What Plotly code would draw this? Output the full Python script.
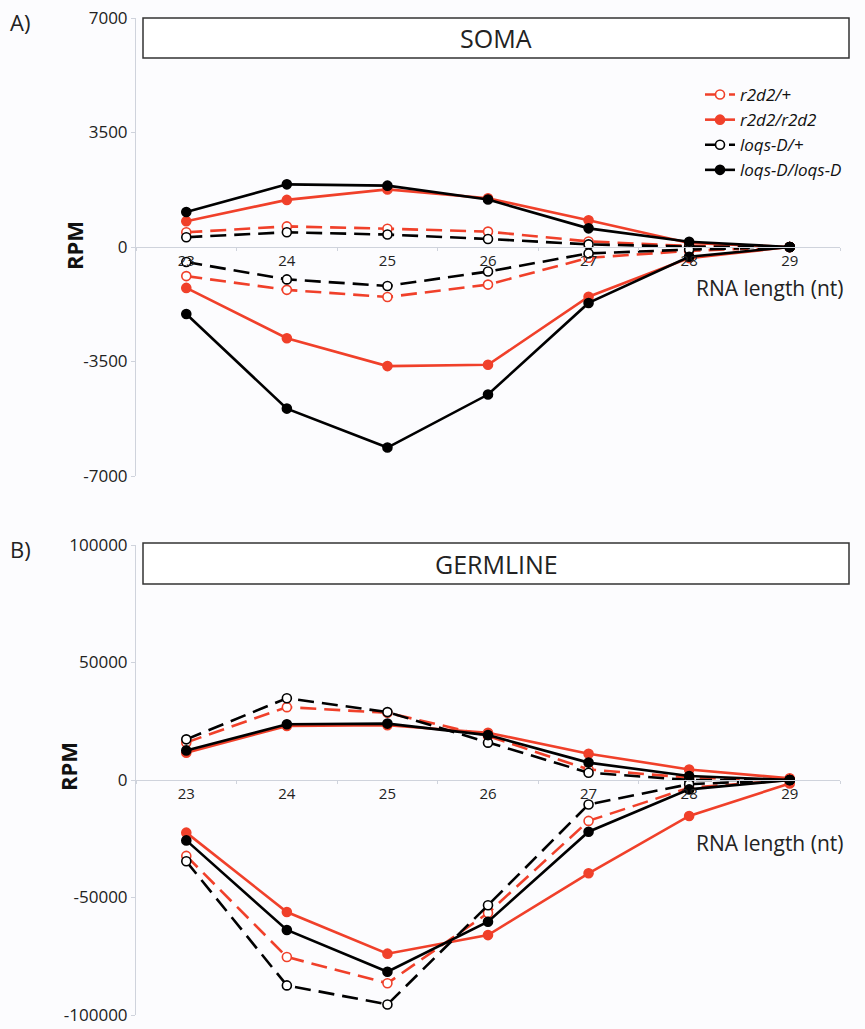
import plotly.graph_objects as go

# ---------------- data ----------------
lengths = ["23", "24", "25", "26", "27", "28", "29"]

series_names = ["r2d2/+", "r2d2/r2d2", "loqs-D/+", "loqs-D/loqs-D"]

# SOMA (RPM)
soma_r2d2_het_pos = [450, 630, 560, 470, 170, 30, 0]
soma_r2d2_het_neg = [-890, -1310, -1530, -1150, -330, -120, 0]
soma_r2d2_hom_pos = [790, 1440, 1760, 1490, 815, 120, 0]
soma_r2d2_hom_neg = [-1250, -2790, -3640, -3600, -1520, -340, 0]
soma_loqs_het_pos = [300, 450, 380, 245, 80, 10, 0]
soma_loqs_het_neg = [-460, -990, -1190, -750, -195, -80, 0]
soma_loqs_hom_pos = [1070, 1915, 1875, 1450, 570, 160, 0]
soma_loqs_hom_neg = [-2050, -4940, -6130, -4510, -1710, -300, 0]

# GERMLINE (RPM)
germ_r2d2_het_pos = [16000, 31000, 28600, 18700, 4500, 1000, 0]
germ_r2d2_het_neg = [-32300, -75300, -86500, -56600, -17400, -3300, 0]
germ_r2d2_hom_pos = [11600, 23000, 23300, 20100, 11200, 4500, 700]
germ_r2d2_hom_neg = [-22400, -56200, -73900, -66000, -39700, -15300, -1500]
germ_loqs_het_pos = [17300, 34800, 28900, 15900, 3100, 0, 0]
germ_loqs_het_neg = [-34600, -87400, -95500, -53300, -10400, -1800, 0]
germ_loqs_hom_pos = [12600, 23700, 24000, 19100, 7400, 1700, 0]
germ_loqs_hom_neg = [-25700, -63800, -81600, -60300, -22000, -4000, 0]

soma_ticks = [-7000, -3500, 0, 3500, 7000]
germ_ticks = [-100000, -50000, 0, 50000, 100000]

# ---------------- styling ----------------
RED = "#F0402A"
BLACK = "#000000"
W, H = 865, 1029
FONT = "Open Sans"

styles = {
    "r2d2/+": dict(color=RED, dash="16px,8px", open=True),
    "r2d2/r2d2": dict(color=RED, dash="solid", open=False),
    "loqs-D/+": dict(color=BLACK, dash="16px,8px", open=True),
    "loqs-D/loqs-D": dict(color=BLACK, dash="solid", open=False),
}

soma = {
    "r2d2/+": (soma_r2d2_het_pos, soma_r2d2_het_neg),
    "r2d2/r2d2": (soma_r2d2_hom_pos, soma_r2d2_hom_neg),
    "loqs-D/+": (soma_loqs_het_pos, soma_loqs_het_neg),
    "loqs-D/loqs-D": (soma_loqs_hom_pos, soma_loqs_hom_neg),
}
germ = {
    "r2d2/+": (germ_r2d2_het_pos, germ_r2d2_het_neg),
    "r2d2/r2d2": (germ_r2d2_hom_pos, germ_r2d2_hom_neg),
    "loqs-D/+": (germ_loqs_het_pos, germ_loqs_het_neg),
    "loqs-D/loqs-D": (germ_loqs_hom_pos, germ_loqs_hom_neg),
}

fig = go.Figure()


def add_series(data, xa, ya, show_legend):
    for name in series_names:
        st = styles[name]
        pos, neg = data[name]
        for i, vals in enumerate((pos, neg)):
            marker = dict(
                size=9,
                symbol="circle",
                color="white" if st["open"] else st["color"],
                line=dict(color=st["color"], width=1.6),
            )
            fig.add_trace(go.Scatter(
                x=lengths, y=vals, mode="lines+markers",
                name="<i>" + name + "</i>", legendgroup=name,
                showlegend=(show_legend and i == 0),
                line=dict(color=st["color"], width=2.6, dash=st["dash"]),
                marker=marker, xaxis=xa, yaxis=ya,
            ))


add_series(soma, "x", "y", True)
add_series(germ, "x2", "y2", False)

# pixel -> paper helpers
L, R = 136, 840
def px(xpix):
    return (xpix - L) / (R - L)
def py(ypix):
    return 1 - ypix / H

top_dom = [py(476), py(18)]
bot_dom = [py(1015), py(545)]

axis_line = "#cfd3dc"
xtickfont = dict(family=FONT, size=15, color="#222222")
ytickfont = dict(family=FONT, size=17, color="#222222")

common_x = dict(
    type="category", range=[-0.5, 6.5], anchor="free",
    showline=True, linecolor=axis_line, linewidth=1,
    ticks="outside", tickson="boundaries", ticklen=3, tickcolor=axis_line,
    showgrid=False, zeroline=False, tickfont=xtickfont, domain=[0, 1],
    automargin=False,
)
common_y = dict(
    showline=True, linecolor=axis_line, linewidth=1,
    ticks="outside", ticklen=4, tickcolor=axis_line,
    showgrid=False, zeroline=False, tickfont=ytickfont, automargin=False,
)

fig.update_layout(
    width=W, height=H,
    margin=dict(l=L, r=W - R, t=0, b=0, autoexpand=False),
    paper_bgcolor="#fcfcfe", plot_bgcolor="#fcfcfe",
    font=dict(family=FONT, color="#222222"),
    xaxis=dict(**common_x, position=sum(top_dom) / 2),
    xaxis2=dict(**common_x, position=sum(bot_dom) / 2),
    yaxis=dict(**common_y, domain=top_dom, range=[-7000, 7000],
               tickvals=soma_ticks, ticktext=[str(v) for v in soma_ticks], anchor="x"),
    yaxis2=dict(**common_y, domain=bot_dom, range=[-100000, 100000],
                tickvals=germ_ticks, ticktext=[str(v) for v in germ_ticks], anchor="x2"),
    legend=dict(
        x=px(700), y=py(77), xanchor="left", yanchor="top",
        bgcolor="rgba(0,0,0,0)", font=dict(family=FONT, size=17, color="#111111"),
        tracegroupgap=0, itemwidth=30,
    ),
    showlegend=True,
)

# title boxes
boxes = [("SOMA", 18, 58), ("GERMLINE", 543, 584)]
for text, y0, y1 in boxes:
    fig.add_shape(type="rect", xref="paper", yref="paper",
                  x0=px(143), x1=px(849), y0=py(y1), y1=py(y0),
                  line=dict(color="#333333", width=1.5), fillcolor="white", layer="above")
    fig.add_annotation(text=text, xref="paper", yref="paper",
                       x=(px(143) + px(849)) / 2, y=(py(y0) + py(y1)) / 2,
                       xanchor="center", yanchor="middle",
                       showarrow=False, font=dict(family=FONT, size=25, color="#222222"))

# panel letters
for text, ypix in [("A)", 22), ("B)", 549)]:
    fig.add_annotation(text=text, xref="paper", yref="paper", x=px(8), y=py(ypix),
                       xanchor="left", yanchor="middle", showarrow=False,
                       font=dict(family=FONT, size=22, color="#222222"))

# RPM labels
for xpix, ypix in [(74, 246), (68, 767)]:
    fig.add_annotation(text="<b>RPM</b>", xref="paper", yref="paper", x=px(xpix), y=py(ypix),
                       xanchor="center", yanchor="middle",
                       textangle=-90, showarrow=False,
                       font=dict(family=FONT, size=22, color="#111111"))

# x-axis titles
for ypix in [288, 843]:
    fig.add_annotation(text="RNA length (nt)", xref="paper", yref="paper",
                       x=px(845), y=py(ypix), xanchor="right", yanchor="middle",
                       showarrow=False,
                       font=dict(family=FONT, size=21, color="#222222"))

fig.write_html("out.html")
